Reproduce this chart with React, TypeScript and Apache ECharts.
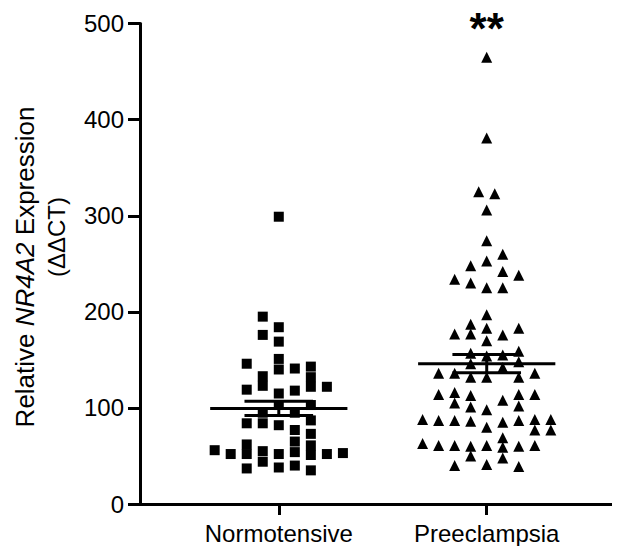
import React, { useEffect, useRef } from "react";
import * as echarts from "echarts";

const categories = ["Normotensive", "Preeclampsia"];
const groupPositions = [1, 2];
const yTicks = [0, 100, 200, 300, 400, 500];

// Normotensive: values and jitter column (column index relative to group centre)
const normValues = [299, 195, 184, 176, 169, 146, 151, 140, 141, 143, 132, 122, 133, 123, 119, 118, 122, 115, 103, 95, 95, 103, 84, 84, 82, 77, 87, 73, 65, 62, 61, 56, 52, 52, 55, 52, 54, 51, 52, 53, 44, 37, 38, 40, 35];
const normCols = [0, -1, 0, -1, 0, -2, 0, 0, 1, 2, 2, 2, -1, -1, -2, 1, 3, 0, 0, -1, 1, 2, -2, -1, 0, 1, 2, 2, 1, -2, 2, -4, -3, -2, -1, 0, 1, 2, 3, 4, -1, -2, 0, 1, 2];

// Preeclampsia
const preValues = [465, 381, 325, 323, 306, 274, 260, 248, 253, 242, 238, 234, 230, 225, 225, 197, 187, 183, 183, 177, 177, 176, 170, 159, 157, 154, 155, 146, 142, 148, 136, 136, 132, 132, 132, 136, 114, 116, 113, 114, 114, 105, 101, 98, 108, 102, 88, 87, 87, 86, 80, 85, 87, 88, 88, 77, 77, 63, 61, 61, 60, 61, 69, 59, 60, 61, 50, 48, 40, 41, 39];
const preCols = [0, 0, -0.5, 0.5, 0, 0, 1, -1, 0, 1, 2, -2, -1, 0, 1, 0, -1, 0, 2, -2, -1, 1, 0, 2, -1, 0, 1, -1, 1, 2, -3, -2, -1, 0, 2, 3, -3, -2, -1, 2, 3, -2, -1, 0, 1, 2, -4, -3, -2, -1, 0, 1, 2, 3, 4, 3, 4, -4, -3, -2, -1, 0, 1, 1, 2, 3, -1, 1, -2, 0, 2];

const means = [99.5, 146];
const sems = [7.5, 9.5];
const significance = ["", "**"];
const significanceY = 495;

const FONT = "Liberation Sans, Arial, Helvetica, sans-serif";
const JITTER = 0.0771;
const MEAN_HALF = 0.33;
const CAP_HALF = 0.165;

export default function App() {
  const ref = useRef<HTMLDivElement>(null);
  useEffect(() => {
    if (!ref.current) return;
    const chart = echarts.init(ref.current, undefined, { renderer: "svg" });
    const normData = normValues.map((v, i) => [groupPositions[0] + normCols[i] * JITTER, v]);
    const preData = preValues.map((v, i) => [groupPositions[1] + preCols[i] * JITTER, v]);
    const summary = groupPositions.map((p, i) => [p, means[i], sems[i]]);
    chart.setOption({
      animation: false,
      grid: { left: 140, right: 0, top: 23.6, bottom: 42, containLabel: false, outerBoundsMode: "none" },
      xAxis: {
        type: "value",
        min: 0.3325,
        max: 2.641,
        splitLine: { show: false },
        axisLine: { show: true, onZero: false, lineStyle: { color: "#000", width: 3 } },
        axisTick: { show: true, customValues: groupPositions, length: 11, lineStyle: { color: "#000", width: 3 } },
        axisLabel: {
          customValues: groupPositions,
          formatter: (v: number) => categories[groupPositions.indexOf(Math.round(v))] || "",
          color: "#000",
          fontSize: 24,
          fontFamily: FONT,
          margin: 17,
        },
      },
      yAxis: {
        type: "value",
        min: 0,
        max: 500,
        interval: 100,
        splitLine: { show: false },
        axisLine: { show: true, lineStyle: { color: "#000", width: 3 } },
        axisTick: { show: true, length: 12, lineStyle: { color: "#000", width: 3 } },
        axisLabel: {
          color: "#000",
          fontSize: 24,
          fontFamily: FONT,
          margin: 16,
          formatter: (v: number) => (yTicks.includes(v) ? String(v) : ""),
        },
      },
      graphic: [
        {
          type: "text",
          x: 25,
          y: 267,
          rotation: Math.PI / 2,
          style: {
            text: "{n|Relative }{i|NR4A2}{n| Expression}",
            rich: {
              n: { fontSize: 26, fontFamily: FONT, fill: "#000" },
              i: { fontSize: 26, fontFamily: FONT, fontStyle: "italic", fill: "#000" },
            },
            align: "center",
            verticalAlign: "middle",
            fill: "#000",
          },
        },
        {
          type: "text",
          x: 56,
          y: 237,
          rotation: Math.PI / 2,
          style: {
            text: "(ΔΔCT)",
            fontSize: 24,
            fontFamily: FONT,
            align: "center",
            verticalAlign: "middle",
            fill: "#000",
          },
        },
      ],
      series: [
        {
          type: "scatter",
          data: normData,
          symbol: "rect",
          symbolSize: 10,
          itemStyle: { color: "#000", opacity: 1 },
        },
        {
          type: "scatter",
          data: preData,
          symbol: "triangle",
          symbolSize: 11,
          itemStyle: { color: "#000", opacity: 1 },
        },
        {
          type: "custom",
          data: summary,
          renderItem: (params: any, api: any) => {
            const x = api.value(0);
            const m = api.value(1);
            const s = api.value(2);
            const ml = api.coord([x - MEAN_HALF, m]);
            const mr = api.coord([x + MEAN_HALF, m]);
            const top = api.coord([x, m + s]);
            const bot = api.coord([x, m - s]);
            const capL = api.coord([x - CAP_HALF, m + s]);
            const capR = api.coord([x + CAP_HALF, m + s]);
            const capLb = api.coord([x - CAP_HALF, m - s]);
            const capRb = api.coord([x + CAP_HALF, m - s]);
            const st = { stroke: "#000", lineWidth: 3 };
            return {
              type: "group",
              children: [
                { type: "line", shape: { x1: ml[0], y1: ml[1], x2: mr[0], y2: mr[1] }, style: st },
                { type: "line", shape: { x1: top[0], y1: top[1], x2: bot[0], y2: bot[1] }, style: st },
                { type: "line", shape: { x1: capL[0], y1: capL[1], x2: capR[0], y2: capR[1] }, style: st },
                { type: "line", shape: { x1: capLb[0], y1: capLb[1], x2: capRb[0], y2: capRb[1] }, style: st },
              ],
            };
          },
          z: 5,
        },
        {
          type: "scatter",
          data: groupPositions.map((p, i) => ({ value: [p, significanceY], label: { show: significance[i] !== "", formatter: significance[i] } })),
          symbolSize: 0,
          itemStyle: { opacity: 1 },
          label: { position: "inside", color: "#000", opacity: 1, fontSize: 44, fontWeight: "bold", fontFamily: FONT },
          silent: true,
        },
      ],
    });
    return () => chart.dispose();
  }, []);
  return <div ref={ref} style={{ width: 620, height: 546, marginLeft: -8, marginTop: -8 }} />;
}
